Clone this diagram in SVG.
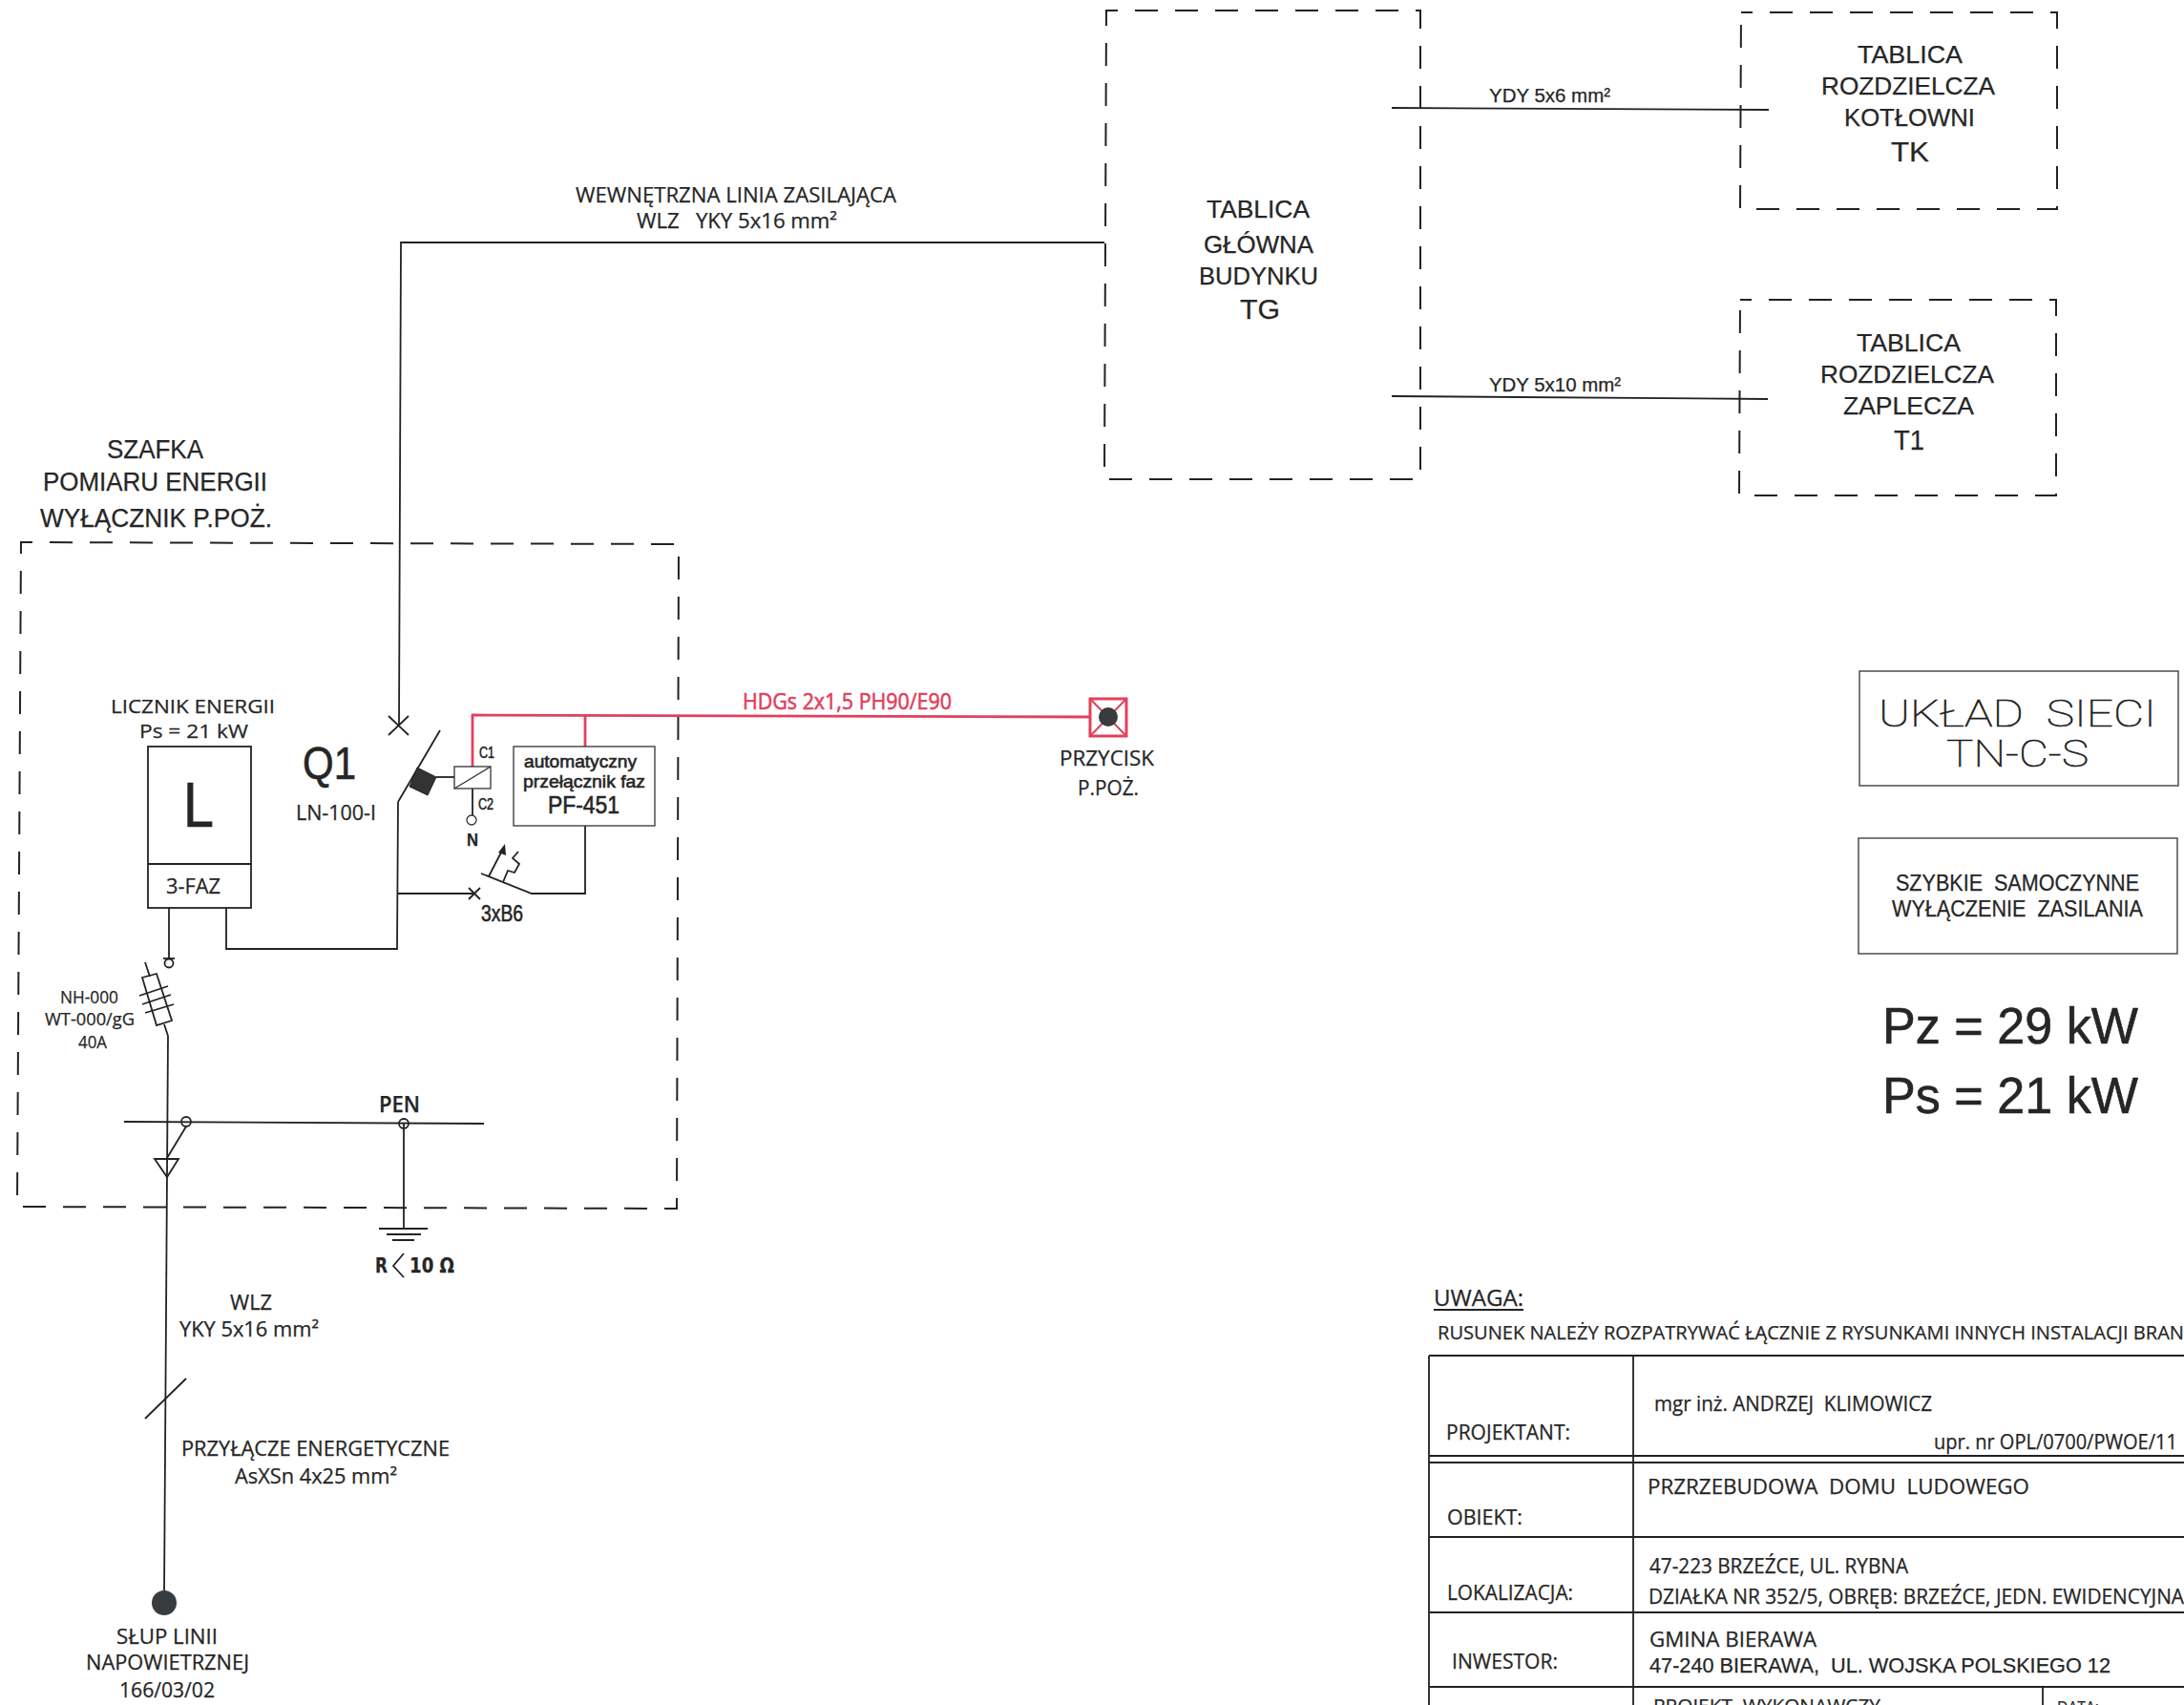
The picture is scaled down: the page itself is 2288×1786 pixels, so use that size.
<svg xmlns="http://www.w3.org/2000/svg" width="2288" height="1786" viewBox="0 0 2288 1786">
<style>
text{font-family:"Liberation Sans",Arial,sans-serif;fill:#262626;white-space:pre;stroke:#262626;stroke-width:.25}
.t{font-family:"Open Sans","Liberation Sans",sans-serif}
.h{stroke-width:.6}
.l{fill:none;stroke:#222;stroke-width:1.8}
.thin{fill:none;stroke:#333;stroke-width:1.3}
.d{fill:none;stroke:#222;stroke-width:2;stroke-dasharray:24 18;stroke-dashoffset:12}
.r{fill:none;stroke:#e2405c;stroke-width:2.8}
.red{fill:#e2405c;stroke:#e2405c;stroke-width:.6}
.cad{font-family:Roboto,"Liberation Sans",sans-serif;font-weight:100;font-size:39px;fill:#111;stroke:#222;stroke-width:.6}
</style>
<rect width="2288" height="1786" fill="#fff"/>
<g id="connectors">
<path class="l" d="M1157 254 H420 L418 760"/>
<path class="l" d="M1458 113 L1853 115"/>
<path class="l" d="M1458 415 L1852 418"/>
<path class="r" d="M495 803 V749 L1142 751"/>
<path class="r" d="M613 750 V782"/>
<path class="l" d="M417 840 L416 994 H237 V951"/>
<path class="l" d="M417 936 H497"/>
<path class="l" d="M613 865 V936 H557 L504 915"/>
<path class="l" d="M177 951 V1004"/>
<path class="l" d="M176 1085 L172 1667"/>
<path class="l" d="M195 1180 L175 1213"/>
<path class="l" d="M423 1177 V1287"/>
<path class="l" d="M195 1444 L152 1486"/>
<path class="l" d="M495 826 V854"/>
</g>
<g id="node-tg">
<path class="d" d="M1159 11 H1488 V502 H1157 Z"/>
<text x="1264" y="228" font-size="26" textLength="108" lengthAdjust="spacingAndGlyphs">TABLICA</text>
<text x="1261" y="265" font-size="26" textLength="115" lengthAdjust="spacingAndGlyphs">GŁÓWNA</text>
<text x="1256" y="298" font-size="26" textLength="125" lengthAdjust="spacingAndGlyphs">BUDYNKU</text>
<text x="1299" y="334" font-size="30" textLength="42" lengthAdjust="spacingAndGlyphs">TG</text>
</g>
<g id="node-tk">
<path class="d" d="M1824 13 H2155 V219 H1823 Z"/>
<text x="1946" y="66" font-size="26" textLength="110" lengthAdjust="spacingAndGlyphs">TABLICA</text>
<text x="1908" y="99" font-size="26" textLength="182" lengthAdjust="spacingAndGlyphs">ROZDZIELCZA</text>
<text x="1932" y="132" font-size="26" textLength="137" lengthAdjust="spacingAndGlyphs">KOTŁOWNI</text>
<text x="1981" y="169" font-size="30" textLength="40" lengthAdjust="spacingAndGlyphs">TK</text>
</g>
<g id="node-t1">
<path class="d" d="M1823 314 H2154 V519 H1822 Z"/>
<text x="1945" y="368" font-size="26" textLength="109" lengthAdjust="spacingAndGlyphs">TABLICA</text>
<text x="1907" y="401" font-size="26" textLength="182" lengthAdjust="spacingAndGlyphs">ROZDZIELCZA</text>
<text x="1931" y="434" font-size="26" textLength="137" lengthAdjust="spacingAndGlyphs">ZAPLECZA</text>
<text x="1984" y="471" font-size="30" textLength="32" lengthAdjust="spacingAndGlyphs">T1</text>
</g>
<g id="labels-cables">
<text class="t" x="603" y="212" font-size="22" textLength="336" lengthAdjust="spacingAndGlyphs">WEWNĘTRZNA LINIA ZASILAJĄCA</text>
<text class="t" x="667" y="239" font-size="22" textLength="210" lengthAdjust="spacingAndGlyphs">WLZ   YKY 5x16 mm²</text>
<text x="1560" y="107" font-size="20" textLength="127" lengthAdjust="spacingAndGlyphs">YDY 5x6 mm²</text>
<text x="1560" y="410" font-size="20" textLength="138" lengthAdjust="spacingAndGlyphs">YDY 5x10 mm²</text>
<text class="t red" x="778" y="743" font-size="24" textLength="219" lengthAdjust="spacingAndGlyphs">HDGs 2x1,5 PH90/E90</text>
<text class="t" x="241" y="1372" font-size="21" textLength="44" lengthAdjust="spacingAndGlyphs">WLZ</text>
<text class="t" x="188" y="1400" font-size="21" textLength="146" lengthAdjust="spacingAndGlyphs">YKY 5x16 mm²</text>
<text class="t" x="190" y="1525" font-size="21" textLength="281" lengthAdjust="spacingAndGlyphs">PRZYŁĄCZE ENERGETYCZNE</text>
<text class="t" x="246" y="1554" font-size="21" textLength="170" lengthAdjust="spacingAndGlyphs">AsXSn 4x25 mm²</text>
</g>
<g id="node-szafka">
<path class="d" d="M22 568 L711 570 L709 1266 L18 1264 Z"/>
<text x="112" y="480" font-size="27" textLength="101" lengthAdjust="spacingAndGlyphs">SZAFKA</text>
<text x="45" y="514" font-size="27" textLength="235" lengthAdjust="spacingAndGlyphs">POMIARU ENERGII</text>
<text x="42" y="552" font-size="27" textLength="243" lengthAdjust="spacingAndGlyphs">WYŁĄCZNIK P.POŻ.</text>
</g>
<g id="node-licznik">
<rect class="l" x="155" y="782" width="108" height="169"/>
<path class="l" d="M155 905 H263"/>
<text class="t" x="116" y="747" font-size="20" textLength="172" lengthAdjust="spacingAndGlyphs">LICZNIK ENERGII</text>
<text class="t" x="146" y="773" font-size="20" textLength="114" lengthAdjust="spacingAndGlyphs">Ps = 21 kW</text>
<text class="h" x="192" y="866" font-size="66" textLength="32" lengthAdjust="spacingAndGlyphs">L</text>
<text class="t" x="174" y="936" font-size="22" textLength="57" lengthAdjust="spacingAndGlyphs">3-FAZ</text>
</g>
<g id="node-q1">
<text class="h" x="317" y="816" font-size="48" textLength="56" lengthAdjust="spacingAndGlyphs">Q1</text>
<text class="t" x="310" y="859" font-size="21" textLength="84" lengthAdjust="spacingAndGlyphs">LN-100-I</text>
<path class="l" d="M407 750 L428 770 M428 750 L407 770"/>
<path class="l" d="M461 765 L417 840"/>
<polygon points="437,804 457,814 448,833 429,824" fill="#333" stroke="#222"/>
<path class="l" d="M457 814 H476"/>
<rect class="thin" x="476" y="803" width="38" height="23"/>
<path class="thin" d="M476 826 L514 803"/>
<circle class="thin" cx="494" cy="859" r="5"/>
<text class="h" x="502" y="794" font-size="17" textLength="16" lengthAdjust="spacingAndGlyphs">C1</text>
<text class="h" x="501" y="848" font-size="17" textLength="16" lengthAdjust="spacingAndGlyphs">C2</text>
<text x="489" y="886" font-size="18" font-weight="bold" textLength="12" lengthAdjust="spacingAndGlyphs">N</text>
</g>
<g id="node-pf451">
<rect class="thin" x="538" y="782" width="148" height="83"/>
<text class="h" x="549" y="804" font-size="18.500" textLength="118" lengthAdjust="spacingAndGlyphs">automatyczny</text>
<text class="h" x="548" y="825" font-size="18.500" textLength="128" lengthAdjust="spacingAndGlyphs">przełącznik faz</text>
<text class="h" x="574" y="852" font-size="25" textLength="75" lengthAdjust="spacingAndGlyphs">PF-451</text>
</g>
<g id="node-b6">
<path class="l" d="M512 918 L526 891 M527 924 L532 912 L539 914 L544 905 L537 899 L543 892"/>
<polygon points="529,884 522,893 530,896" fill="#222"/>
<path class="l" d="M491 930 L503 942 M503 930 L491 942"/>
<text class="h" x="504" y="965" font-size="24" textLength="44" lengthAdjust="spacingAndGlyphs">3xB6</text>
</g>
<g id="node-przycisk">
<rect x="1142" y="732" width="38" height="39" fill="none" stroke="#e2405c" stroke-width="3"/>
<path d="M1142 732 L1180 771 M1180 732 L1142 771" fill="none" stroke="#e2405c" stroke-width="2"/>
<circle cx="1161" cy="751" r="10" fill="#383c3e"/>
<text class="t" x="1110" y="802" font-size="21" textLength="99" lengthAdjust="spacingAndGlyphs">PRZYCISK</text>
<text class="t" x="1129" y="833" font-size="21" textLength="64" lengthAdjust="spacingAndGlyphs">P.POŻ.</text>
</g>
<g id="node-bezpiecznik">
<path class="l" d="M171 1004 H183"/>
<circle class="l" cx="177" cy="1009" r="4.500"/>
<polygon class="l" points="149,1024 164,1020 180,1069 164,1074"/>
<path class="l" d="M152 1008 L157 1023 M172 1073 L176 1085 M146 1043 L176 1033 M149 1052 L179 1042 M152 1061 L182 1052"/>
<text class="t" x="63" y="1051" font-size="18" textLength="61" lengthAdjust="spacingAndGlyphs">NH-000</text>
<text class="t" x="47" y="1074" font-size="18" textLength="94" lengthAdjust="spacingAndGlyphs">WT-000/gG</text>
<text class="t" x="82" y="1098" font-size="18" textLength="30" lengthAdjust="spacingAndGlyphs">40A</text>
</g>
<g id="node-pen">
<path class="l" d="M130 1175 L507 1177"/>
<circle class="l" cx="195" cy="1175" r="5" fill="#fff"/>
<circle class="l" cx="423" cy="1177" r="5" fill="#fff"/>
<polygon class="l" points="162,1214 187,1214 175,1233"/>
<text class="t" x="397" y="1165" font-size="23" font-weight="600" textLength="43" lengthAdjust="spacingAndGlyphs">PEN</text>
</g>
<g id="node-uziemienie">
<path class="l" d="M397 1287 H448 M405 1293 H441 M411 1299 H434"/>
<path class="l" d="M423 1313 L412 1326 L423 1338"/>
<text x="393" y="1333" font-size="21" font-weight="bold" style="font-family:'DejaVu Sans',sans-serif" textLength="13" lengthAdjust="spacingAndGlyphs">R</text>
<text x="429" y="1333" font-size="21" font-weight="bold" style="font-family:'DejaVu Sans',sans-serif" textLength="47" lengthAdjust="spacingAndGlyphs">10 Ω</text>
</g>
<g id="node-slup">
<circle cx="172" cy="1679" r="13" fill="#383c3e"/>
<text class="t" x="122" y="1722" font-size="21" textLength="106" lengthAdjust="spacingAndGlyphs">SŁUP LINII</text>
<text class="t" x="90" y="1749" font-size="21" textLength="171" lengthAdjust="spacingAndGlyphs">NAPOWIETRZNEJ</text>
<text class="t" x="125" y="1778" font-size="21" textLength="100" lengthAdjust="spacingAndGlyphs">166/03/02</text>
</g>
<g id="node-uklad">
<rect class="thin" x="1948" y="703" width="334" height="120"/>
<text class="cad" x="1968" y="761" textLength="291" lengthAdjust="spacingAndGlyphs">UKŁAD  SIECI</text>
<text class="cad" x="2039" y="803" textLength="149" lengthAdjust="spacingAndGlyphs">TN-C-S</text>
</g>
<g id="node-wylaczenie">
<rect class="thin" x="1947" y="878" width="334" height="121"/>
<text x="1986" y="933" font-size="23" textLength="255" lengthAdjust="spacingAndGlyphs">SZYBKIE  SAMOCZYNNE</text>
<text x="1982" y="960" font-size="23" textLength="263" lengthAdjust="spacingAndGlyphs">WYŁĄCZENIE  ZASILANIA</text>
</g>
<g id="node-moc">
<text class="h" x="1972" y="1093" font-size="53" textLength="268" lengthAdjust="spacingAndGlyphs">Pz = 29 kW</text>
<text class="h" x="1972" y="1166" font-size="53" textLength="268" lengthAdjust="spacingAndGlyphs">Ps = 21 kW</text>
</g>
<g id="node-uwaga">
<text class="t" x="1502" y="1368" font-size="24" textLength="94" lengthAdjust="spacingAndGlyphs">UWAGA:</text>
<path class="l" d="M1502 1372 H1596"/>
<text class="t" x="1506" y="1403" font-size="20" textLength="782" lengthAdjust="spacingAndGlyphs">RUSUNEK NALEŻY ROZPATRYWAĆ ŁĄCZNIE Z RYSUNKAMI INNYCH INSTALACJI BRAN</text>
</g>
<g id="node-tabela">
<path class="l" d="M1497 1420 H2288 M1497 1525 H2288 M1497 1532 H2288 M1497 1610 H2288 M1497 1689 H2288 M1497 1767 H2288 M1497 1420 V1786 M1711 1420 V1786 M2140 1767 V1786"/>
<text class="t" x="1515" y="1508" font-size="21" textLength="130" lengthAdjust="spacingAndGlyphs">PROJEKTANT:</text>
<text class="t" x="1733" y="1478" font-size="21" textLength="291" lengthAdjust="spacingAndGlyphs">mgr inż. ANDRZEJ  KLIMOWICZ</text>
<text class="t" x="2026" y="1518" font-size="21" textLength="255" lengthAdjust="spacingAndGlyphs">upr. nr OPL/0700/PWOE/11</text>
<text class="t" x="1516" y="1597" font-size="21" textLength="79" lengthAdjust="spacingAndGlyphs">OBIEKT:</text>
<text class="t" x="1726" y="1565" font-size="22" textLength="400" lengthAdjust="spacingAndGlyphs">PRZRZEBUDOWA  DOMU  LUDOWEGO</text>
<text class="t" x="1516" y="1676" font-size="21" textLength="132" lengthAdjust="spacingAndGlyphs">LOKALIZACJA:</text>
<text class="t" x="1728" y="1648" font-size="21" textLength="271" lengthAdjust="spacingAndGlyphs">47-223 BRZEŹCE, UL. RYBNA</text>
<text class="t" x="1727" y="1680" font-size="21" textLength="561" lengthAdjust="spacingAndGlyphs">DZIAŁKA NR 352/5, OBRĘB: BRZEŹCE, JEDN. EWIDENCYJNA</text>
<text class="t" x="1521" y="1748" font-size="21" textLength="111" lengthAdjust="spacingAndGlyphs">INWESTOR:</text>
<text class="t" x="1728" y="1725" font-size="21" textLength="175" lengthAdjust="spacingAndGlyphs">GMINA BIERAWA</text>
<text x="1728" y="1752" font-size="22" textLength="483" lengthAdjust="spacingAndGlyphs">47-240 BIERAWA,  UL. WOJSKA POLSKIEGO 12</text>
<text class="t" x="1732" y="1794" font-size="20" textLength="238" lengthAdjust="spacingAndGlyphs">PROJEKT  WYKONAWCZY</text>
<text class="t" x="2155" y="1794" font-size="17" textLength="44" lengthAdjust="spacingAndGlyphs">DATA:</text>
</g>
</svg>
